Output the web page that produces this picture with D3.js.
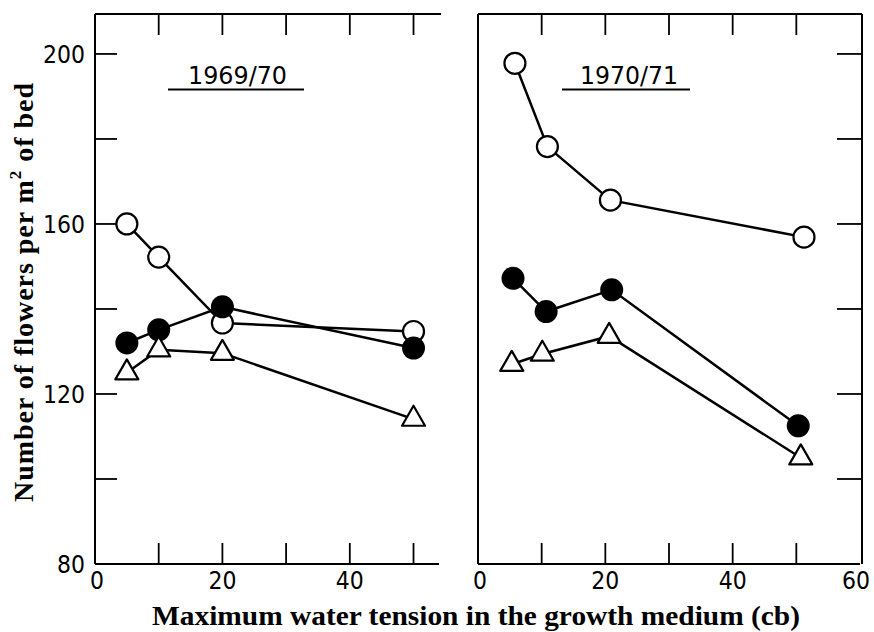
<!DOCTYPE html>
<html>
<head>
<meta charset="utf-8">
<script src="https://cdn.jsdelivr.net/npm/d3@7/dist/d3.min.js"></script>
<style>
  html, body { margin: 0; padding: 0; background: #fff; }
  svg { display: block; }
</style>
</head>
<body>
<svg id="chart" width="874" height="632"></svg>
<script>
// Flower yield against maximum water tension, two seasons
const seasons = ["1969/70", "1970/71"];

// 1969/70
const x6970 = [5, 10, 20, 50];
const open6970 = [160, 152.2, 136.7, 134.7];
const filled6970 = [132.0, 135.1, 140.5, 130.8];
const tri6970 = [125.0, 130.4, 129.6, 114.1];

// 1970/71
const xOpen7071 = [5.8, 10.9, 20.8, 51.2];
const open7071 = [197.8, 178.2, 165.6, 156.9];
const xFilled7071 = [5.5, 10.7, 21, 50.3];
const filled7071 = [147.2, 139.4, 144.5, 112.5];
const xTri7071 = [5.3, 10.1, 20.6, 50.7];
const tri7071 = [127.0, 129.4, 133.6, 105.0];

const yTickLabels = [80, 120, 160, 200];
const yTicks = [80, 100, 120, 140, 160, 180, 200];
const xTickLabelsLeft = [0, 20, 40];
const xTickLabelsRight = [0, 20, 40, 60];
const xTicks = [10, 20, 30, 40, 50];

const svg = d3.select("#chart");
const ink = "#000";

const plotTop = 14, plotBottom = 564;
const y = d3.scaleLinear().domain([80, 209.4]).range([plotBottom, plotTop]);

const panels = [
  { name: seasons[0], x: d3.scaleLinear().domain([0, 54]).range([95, 439]),
    series: [
      { kind: "open", xs: x6970, ys: open6970 },
      { kind: "filled", xs: x6970, ys: filled6970 },
      { kind: "tri", xs: x6970, ys: tri6970 }
    ],
    leftAxis: true, rightBorder: false, labelX: [188, 287], lineX: [168, 304] },
  { name: seasons[1], x: d3.scaleLinear().domain([0, 60]).range([478, 860]),
    series: [
      { kind: "open", xs: xOpen7071, ys: open7071 },
      { kind: "filled", xs: xFilled7071, ys: filled7071 },
      { kind: "tri", xs: xTri7071, ys: tri7071 }
    ],
    leftAxis: false, rightBorder: true, labelX: [580, 678], lineX: [562, 690] }
];

const tickFont = "'DejaVu Sans', sans-serif";
const tickSize = 24;

function triPath(cx, cy) {
  const h = 20, w = 23;
  return `M${cx},${cy - 2 * h / 3}L${cx + w / 2},${cy + h / 3}L${cx - w / 2},${cy + h / 3}Z`;
}

// small nudges so edge labels sit inside the page
function labelShift(d, isRight) {
  if (d === 0) return 2;
  if (isRight && d === 60) return -4;
  return 0;
}

panels.forEach((p, i) => {
  const g = svg.append("g");
  const x = p.x;
  const [x0, x1] = x.range();

  // frame
  g.append("line").attr("x1", x0).attr("x2", x0).attr("y1", plotTop).attr("y2", plotBottom)
    .attr("stroke", ink).attr("stroke-width", 2);
  g.append("line").attr("x1", x0).attr("x2", x1 + 2).attr("y1", plotTop).attr("y2", plotTop)
    .attr("stroke", ink).attr("stroke-width", 2);
  g.append("line").attr("x1", x0).attr("x2", x1).attr("y1", plotBottom).attr("y2", plotBottom)
    .attr("stroke", ink).attr("stroke-width", 2);
  if (p.rightBorder) {
    g.append("line").attr("x1", x1 + 2).attr("x2", x1 + 2).attr("y1", plotTop).attr("y2", plotBottom)
      .attr("stroke", ink).attr("stroke-width", 2);
  }

  // inward ticks along top and bottom
  g.selectAll(".tt").data(xTicks).join("line")
    .attr("x1", d => x(d)).attr("x2", d => x(d))
    .attr("y1", plotTop).attr("y2", plotTop + 21)
    .attr("stroke", ink).attr("stroke-width", 1.8);
  g.selectAll(".bt").data(xTicks).join("line")
    .attr("x1", d => x(d)).attr("x2", d => x(d))
    .attr("y1", plotBottom).attr("y2", plotBottom - 21)
    .attr("stroke", ink).attr("stroke-width", 1.8);

  // y ticks: left side of first panel, right side of second
  const yt = yTicks.filter(d => d > 80);
  if (p.leftAxis) {
    g.selectAll(".yt").data(yt).join("line")
      .attr("x1", x0).attr("x2", x0 + 22)
      .attr("y1", d => y(d)).attr("y2", d => y(d))
      .attr("stroke", ink).attr("stroke-width", 1.8);
    g.selectAll(".yl").data(yTickLabels).join("text")
      .attr("x", 85).attr("y", d => y(d) + 9)
      .attr("text-anchor", "end")
      .attr("font-family", tickFont).attr("font-size", tickSize)
      .attr("textLength", d => String(d).length * 14).attr("lengthAdjust", "spacingAndGlyphs")
      .attr("fill", ink)
      .text(d => d);
  }
  if (p.rightBorder) {
    g.selectAll(".yr").data(yt).join("line")
      .attr("x1", x1 + 2).attr("x2", x1 - 23)
      .attr("y1", d => y(d)).attr("y2", d => y(d))
      .attr("stroke", ink).attr("stroke-width", 1.8);
  }

  // x tick labels
  const xl = i === 0 ? xTickLabelsLeft : xTickLabelsRight;
  g.selectAll(".xl").data(xl).join("text")
    .attr("x", d => x(d) + labelShift(d, i === 1)).attr("y", 589)
    .attr("text-anchor", "middle")
    .attr("font-family", tickFont).attr("font-size", tickSize)
    .attr("textLength", d => String(d).length * 14).attr("lengthAdjust", "spacingAndGlyphs")
    .attr("fill", ink)
    .text(d => d);

  // season heading with underline
  g.append("text")
    .attr("x", (p.labelX[0] + p.labelX[1]) / 2).attr("y", 84)
    .attr("text-anchor", "middle")
    .attr("font-family", tickFont).attr("font-size", 24)
    .attr("textLength", p.labelX[1] - p.labelX[0]).attr("lengthAdjust", "spacingAndGlyphs")
    .attr("fill", ink)
    .text(p.name);
  g.append("line").attr("x1", p.lineX[0]).attr("x2", p.lineX[1]).attr("y1", 89.5).attr("y2", 89.5)
    .attr("stroke", ink).attr("stroke-width", 1.8);

  // connecting lines
  const line = d3.line().x(d => x(d[0])).y(d => y(d[1]));
  p.series.forEach(s => {
    g.append("path")
      .datum(s.xs.map((v, k) => [v, s.ys[k]]))
      .attr("d", line)
      .attr("fill", "none").attr("stroke", ink).attr("stroke-width", 2.5);
  });

  // markers: open circles, then filled circles, then triangles on top
  const order = ["open", "filled", "tri"];
  order.forEach(kind => {
    const s = p.series.find(d => d.kind === kind);
    const pts = s.xs.map((v, k) => [v, s.ys[k]]);
    if (kind === "tri") {
      g.selectAll(null).data(pts).join("path")
        .attr("d", d => triPath(x(d[0]), y(d[1])))
        .attr("fill", "#fff").attr("stroke", ink).attr("stroke-width", 2.2)
        .attr("stroke-linejoin", "round");
    } else {
      g.selectAll(null).data(pts).join("circle")
        .attr("cx", d => x(d[0])).attr("cy", d => y(d[1]))
        .attr("r", kind === "open" ? 10.5 : 11.5)
        .attr("fill", kind === "open" ? "#fff" : ink)
        .attr("stroke", ink).attr("stroke-width", kind === "open" ? 2.2 : 0);
    }
  });
});

// axis titles
const serif = "'Liberation Serif', 'Times New Roman', serif";
const yTitle = svg.append("text")
  .attr("transform", "translate(33,292.5) rotate(-90)")
  .attr("text-anchor", "middle")
  .attr("font-family", serif).attr("font-weight", "bold").attr("font-size", 28)
  .attr("textLength", 419).attr("lengthAdjust", "spacing")
  .attr("fill", ink);
yTitle.append("tspan").text("Number of flowers per m");
yTitle.append("tspan").attr("dy", -12).attr("font-size", 17).text("2");
yTitle.append("tspan").attr("dy", 12).text("  of bed");

svg.append("text")
  .attr("x", 476).attr("y", 625)
  .attr("text-anchor", "middle")
  .attr("font-family", serif).attr("font-weight", "bold").attr("font-size", 27)
  .attr("textLength", 648).attr("lengthAdjust", "spacingAndGlyphs")
  .attr("fill", ink)
  .text("Maximum water tension in the growth medium (cb)");
</script>
</body>
</html>
